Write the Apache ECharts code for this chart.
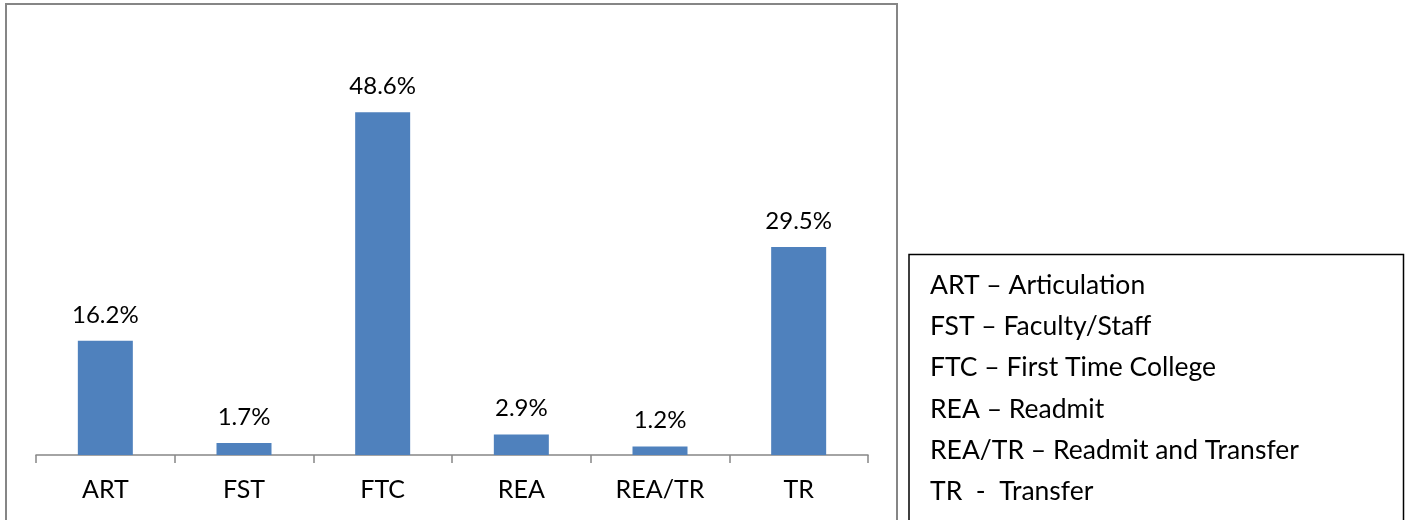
<!DOCTYPE html>
<html>
<head>
<meta charset="utf-8">
<script src="https://cdn.jsdelivr.net/npm/echarts@6/dist/echarts.min.js"></script>
<style>
html,body{margin:0;padding:0;background:#fff;}
#c{width:1411px;height:520px;}
</style>
</head>
<body>
<div id="c"></div>
<script>
const categories = ['ART', 'FST', 'FTC', 'REA', 'REA/TR', 'TR'];
const values = [16.2, 1.7, 48.6, 2.9, 1.2, 29.5];
const legendLines = [
  'ART \u2013 Articulation',
  'FST \u2013 Faculty/Staff',
  'FTC \u2013 First Time College',
  'REA \u2013 Readmit',
  'REA/TR \u2013 Readmit and Transfer',
  'TR  -  Transfer'
];

const FONT = 'Lato';
const chart = echarts.init(document.getElementById('c'), null, {renderer: 'canvas'});

const graphics = [
  {type: 'rect', shape: {x: 6, y: 4, width: 891, height: 530}, style: {fill: 'none', stroke: '#868686', lineWidth: 2}, silent: true, z: -1},
  {type: 'rect', shape: {x: 909, y: 254.5, width: 494.5, height: 280}, style: {fill: '#fff', stroke: '#000', lineWidth: 1.5}, silent: true, z: -1}
];
legendLines.forEach((t, i) => {
  graphics.push({
    type: 'text', left: 930, top: 284 + i * 41.2 - 12,
    style: {text: t, font: '26.5px ' + FONT, fill: '#000', textVerticalAlign: 'top'},
    silent: true
  });
});

chart.setOption({
  animation: false,
  backgroundColor: '#fff',
  grid: {left: 36, right: 543, top: 32, bottom: 65, containLabel: false},
  xAxis: {
    type: 'category',
    data: categories,
    axisLine: {show: true, lineStyle: {color: '#868686', width: 1.5}},
    axisTick: {show: true, length: 8, lineStyle: {color: '#868686', width: 1.5}},
    axisLabel: {color: '#000', fontFamily: FONT, fontSize: 25, margin: 22}
  },
  yAxis: {
    type: 'value', min: 0, max: 60, interval: 10, show: false,
    splitLine: {show: false}
  },
  series: [{
    type: 'bar',
    data: values,
    barWidth: 55,
    itemStyle: {color: '#4F81BD'},
    label: {
      show: true, position: 'top', distance: 14,
      formatter: p => p.value.toFixed(1) + '%',
      color: '#000', fontFamily: FONT, fontSize: 24
    }
  }],
  graphic: graphics
});
</script>
</body>
</html>
